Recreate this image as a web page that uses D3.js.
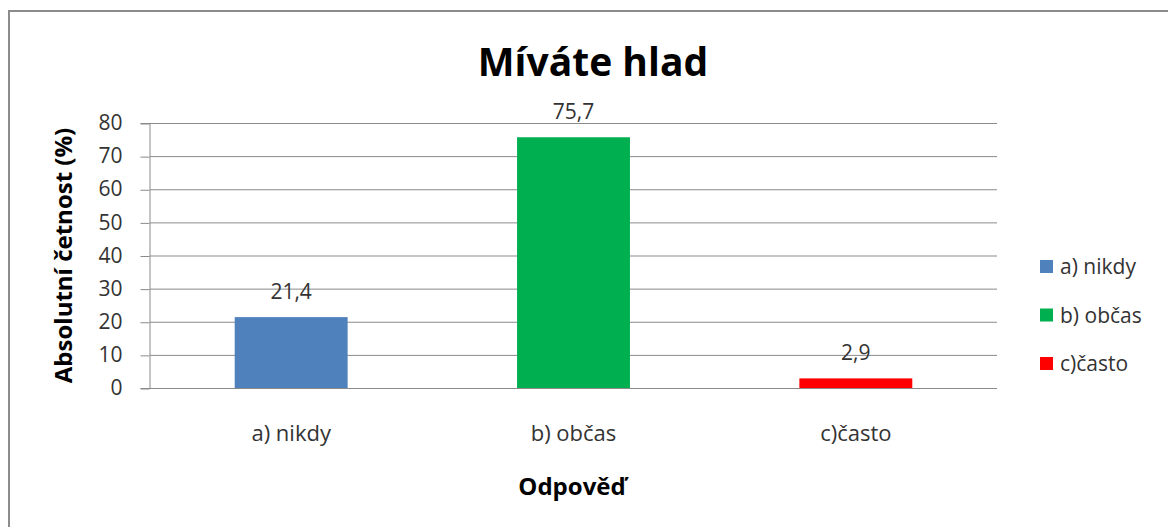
<!DOCTYPE html>
<html><head><meta charset="utf-8">
<script src="https://cdn.jsdelivr.net/npm/d3@7"></script>
<style>body{margin:0;background:#fff;} svg{display:block;}</style>
</head><body>
<svg id="c" width="1168" height="527"></svg>
<script>
const categories = ["a) nikdy", "b) občas", "c)často"];
const values = [21.4, 75.7, 2.9];
const valueLabels = ["21,4", "75,7", "2,9"];
const colors = ["#4F81BD", "#00B050", "#FF0000"];
const yTicks = [0, 10, 20, 30, 40, 50, 60, 70, 80];

const font = "'Open Sans', sans-serif";
const svg = d3.select("#c");
svg.append("rect").attr("x", 9).attr("y", 11).attr("width", 1200).attr("height", 600)
  .attr("fill", "#fff").attr("stroke", "#8c8c8c").attr("stroke-width", 2);

const L = 150, R = 997, T = 123, B = 388;
const x = d3.scaleBand().domain(categories).range([L, R]).paddingInner(0.6).paddingOuter(0.3);
const y = d3.scaleLinear().domain([0, 80]).range([B, T]);

// gridlines
svg.append("g").selectAll("line").data(yTicks).join("line")
  .attr("x1", L).attr("x2", R).attr("y1", d => y(d) + 0.5).attr("y2", d => y(d) + 0.5)
  .attr("stroke", "#8a8a8a").attr("stroke-width", 1);

// y axis
const ya = svg.append("g").attr("transform", `translate(${L - 0.5},0)`)
  .call(d3.axisLeft(y).tickValues(yTicks).tickSize(9).tickPadding(18).tickFormat(d3.format("d")));
ya.select(".domain").attr("stroke", "#8a8a8a");
ya.selectAll(".tick line").attr("stroke", "#8a8a8a").attr("transform", "translate(0,0.5)");
ya.selectAll(".tick text").attr("font-family", font).attr("font-size", 21).attr("fill", "#333");

// bars
svg.append("g").selectAll("rect").data(values).join("rect")
  .attr("x", (d, i) => x(categories[i])).attr("width", x.bandwidth())
  .attr("y", d => y(d)).attr("height", d => B - y(d)).attr("fill", (d, i) => colors[i]);

// x axis labels
svg.append("g").selectAll("text").data(categories).join("text")
  .attr("x", d => x(d) + x.bandwidth() / 2).attr("y", 441).attr("text-anchor", "middle")
  .attr("font-family", font).attr("font-size", 22).attr("fill", "#333").text(d => d);

// data labels
svg.append("g").selectAll("text").data(values).join("text")
  .attr("x", (d, i) => x(categories[i]) + x.bandwidth() / 2).attr("y", d => y(d) - 18)
  .attr("text-anchor", "middle").attr("font-family", font).attr("font-size", 21).attr("fill", "#333")
  .text((d, i) => valueLabels[i]);

// title
svg.append("text").attr("x", 593).attr("y", 76).attr("text-anchor", "middle")
  .attr("font-family", font).attr("font-weight", "bold").attr("font-size", 39).attr("fill", "#000")
  .text("Míváte hlad");

// axis titles
svg.append("text").attr("transform", `translate(72,${(T + B) / 2}) rotate(-90)`).attr("text-anchor", "middle")
  .attr("font-family", font).attr("font-weight", "bold").attr("font-size", 24).attr("fill", "#000")
  .text("Absolutní četnost (%)");
svg.append("text").attr("x", 572).attr("y", 495).attr("text-anchor", "middle")
  .attr("font-family", font).attr("font-weight", "bold").attr("font-size", 24).attr("fill", "#000")
  .text("Odpověď");

// legend
const lg = svg.append("g").selectAll("g").data(categories).join("g")
  .attr("transform", (d, i) => `translate(1040,${266.5 + i * 48.5})`);
lg.append("rect").attr("x", 0).attr("y", -6.5).attr("width", 13).attr("height", 13).attr("fill", (d, i) => colors[i]);
lg.append("text").attr("x", 20).attr("y", 7.5).attr("font-family", font).attr("font-size", 21).attr("fill", "#333").text(d => d);
</script>
</body></html>
